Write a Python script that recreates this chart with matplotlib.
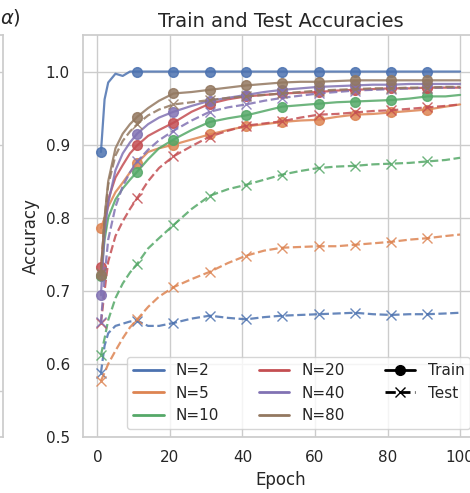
import matplotlib
matplotlib.use("Agg")
import matplotlib.pyplot as plt
from matplotlib.lines import Line2D
import seaborn as sns

epochs = [1, 2, 3, 5, 7, 9, 11, 14, 17, 21, 26, 31, 36, 41, 46, 51, 56, 61, 66, 71, 76, 81, 86, 91, 96, 100]
marker_epochs = [1, 11, 21, 31, 41, 51, 61, 71, 81, 91]

sizes = [2, 5, 10, 20, 40, 80]

train_n2 = [0.890, 0.962, 0.985, 0.997, 0.994, 1.0, 1.0, 1.0, 1.0, 1.0, 1.0, 1.0, 1.0,
            1.0, 1.0, 1.0, 1.0, 1.0, 1.0, 1.0, 1.0, 1.0, 1.0, 1.0, 1.0, 1.0]
test_n2 = [0.588, 0.625, 0.642, 0.652, 0.655, 0.658, 0.659, 0.652, 0.652, 0.656, 0.662, 0.666, 0.663,
           0.661, 0.664, 0.666, 0.667, 0.668, 0.669, 0.670, 0.668, 0.667, 0.668, 0.668, 0.669, 0.670]

train_n5 = [0.786, 0.800, 0.815, 0.835, 0.848, 0.862, 0.875, 0.890, 0.895, 0.900, 0.907, 0.914, 0.920,
            0.925, 0.928, 0.931, 0.933, 0.934, 0.938, 0.941, 0.942, 0.944, 0.946, 0.948, 0.952, 0.955]
test_n5 = [0.577, 0.588, 0.600, 0.618, 0.635, 0.650, 0.661, 0.678, 0.692, 0.705, 0.716, 0.726, 0.738,
           0.748, 0.755, 0.759, 0.760, 0.761, 0.761, 0.763, 0.765, 0.767, 0.770, 0.772, 0.775, 0.777]

train_n10 = [0.720, 0.770, 0.800, 0.825, 0.840, 0.852, 0.863, 0.880, 0.895, 0.907, 0.920, 0.931, 0.936,
             0.940, 0.946, 0.952, 0.954, 0.956, 0.958, 0.959, 0.960, 0.961, 0.963, 0.966, 0.966, 0.968]
test_n10 = [0.612, 0.635, 0.660, 0.690, 0.710, 0.725, 0.737, 0.758, 0.772, 0.790, 0.812, 0.830, 0.839,
            0.845, 0.852, 0.859, 0.864, 0.868, 0.870, 0.871, 0.873, 0.874, 0.875, 0.877, 0.879, 0.882]

train_n20 = [0.733, 0.790, 0.825, 0.855, 0.872, 0.888, 0.899, 0.912, 0.920, 0.930, 0.945, 0.956, 0.962,
             0.966, 0.968, 0.970, 0.971, 0.972, 0.974, 0.975, 0.976, 0.977, 0.977, 0.978, 0.978, 0.978]
test_n20 = [0.656, 0.700, 0.740, 0.775, 0.795, 0.812, 0.827, 0.850, 0.868, 0.884, 0.898, 0.911, 0.919,
            0.926, 0.929, 0.932, 0.937, 0.941, 0.942, 0.944, 0.946, 0.947, 0.949, 0.951, 0.953, 0.955]

train_n40 = [0.694, 0.780, 0.820, 0.865, 0.888, 0.903, 0.915, 0.928, 0.937, 0.945, 0.953, 0.960, 0.964,
             0.968, 0.972, 0.975, 0.977, 0.979, 0.980, 0.981, 0.982, 0.982, 0.983, 0.983, 0.983, 0.983]
test_n40 = [0.657, 0.720, 0.770, 0.815, 0.843, 0.862, 0.877, 0.893, 0.906, 0.919, 0.933, 0.945, 0.951,
            0.955, 0.960, 0.964, 0.967, 0.970, 0.972, 0.974, 0.975, 0.976, 0.977, 0.978, 0.978, 0.978]

train_n80 = [0.722, 0.800, 0.850, 0.895, 0.915, 0.928, 0.938, 0.950, 0.960, 0.970, 0.972, 0.975, 0.978,
             0.981, 0.983, 0.985, 0.986, 0.986, 0.987, 0.988, 0.988, 0.988, 0.988, 0.988, 0.988, 0.988]
test_n80 = [0.725, 0.800, 0.845, 0.885, 0.905, 0.918, 0.928, 0.940, 0.948, 0.955, 0.958, 0.961, 0.964,
            0.966, 0.968, 0.970, 0.972, 0.974, 0.975, 0.976, 0.977, 0.977, 0.978, 0.978, 0.979, 0.979]

train_curves = [train_n2, train_n5, train_n10, train_n20, train_n40, train_n80]
test_curves = [test_n2, test_n5, test_n10, test_n20, test_n40, test_n80]


def main():
    sns.set_theme(style="whitegrid")
    colors = sns.color_palette("deep")

    fig = plt.figure(figsize=(4.7, 4.93), dpi=100)

    # sliver of the neighbouring subplot on the left
    ax0 = fig.add_axes([-0.5, 56 / 493, 0.5 + 3 / 470, 402 / 493])
    ax0.set_ylim(0, 1)
    ax0.set_yticks([1 - (390.7 - 35) / 402, 1 - (145 - 35) / 402, 1 - (72 - 35) / 402])
    ax0.set_xticks([])
    ax0.tick_params(labelleft=False)
    fig.text(21 / 470, 1 - 18 / 493, r"$\alpha$)", ha="right", va="center", fontsize=14)

    ax = fig.add_axes([83 / 470, 56 / 493, 395 / 470, 402 / 493])
    mark_idx = [epochs.index(e) for e in marker_epochs]

    for i, n in enumerate(sizes):
        ax.plot(epochs, train_curves[i], color=colors[i], linestyle="-", marker="o",
                markevery=mark_idx, markersize=7, linewidth=1.6, alpha=0.85)
        ax.plot(epochs, test_curves[i], color=colors[i], linestyle="--", marker="x",
                markevery=mark_idx, markersize=7, linewidth=1.6, alpha=0.85)

    ax.set_ylim(0.5, 1.05)
    ax.set_xlim(-3.95, 104.95)
    ax.set_xticks([0, 20, 40, 60, 80, 100])
    ax.set_yticks([0.5, 0.6, 0.7, 0.8, 0.9, 1.0])
    ax.tick_params(labelsize=11)
    ax.set_xlabel("Epoch", fontsize=12)
    ax.set_ylabel("Accuracy", fontsize=12)
    ax.set_title("Train and Test Accuracies", fontsize=14)

    handles = [Line2D([0], [0], color=colors[i], lw=2) for i in range(len(sizes))]
    labels = [f"N={n}" for n in sizes]
    handles += [Line2D([0], [0], color="black", lw=2, linestyle="-", marker="o", markersize=7),
                Line2D([0], [0], color="black", lw=2, linestyle="--", marker="x", markersize=7)]
    labels += ["Train", "Test"]
    ax.legend(handles, labels, loc="lower right", ncol=3, fontsize=11, columnspacing=2.6)

    fig.savefig("out.png", dpi=100)


if __name__ == "__main__":
    main()
